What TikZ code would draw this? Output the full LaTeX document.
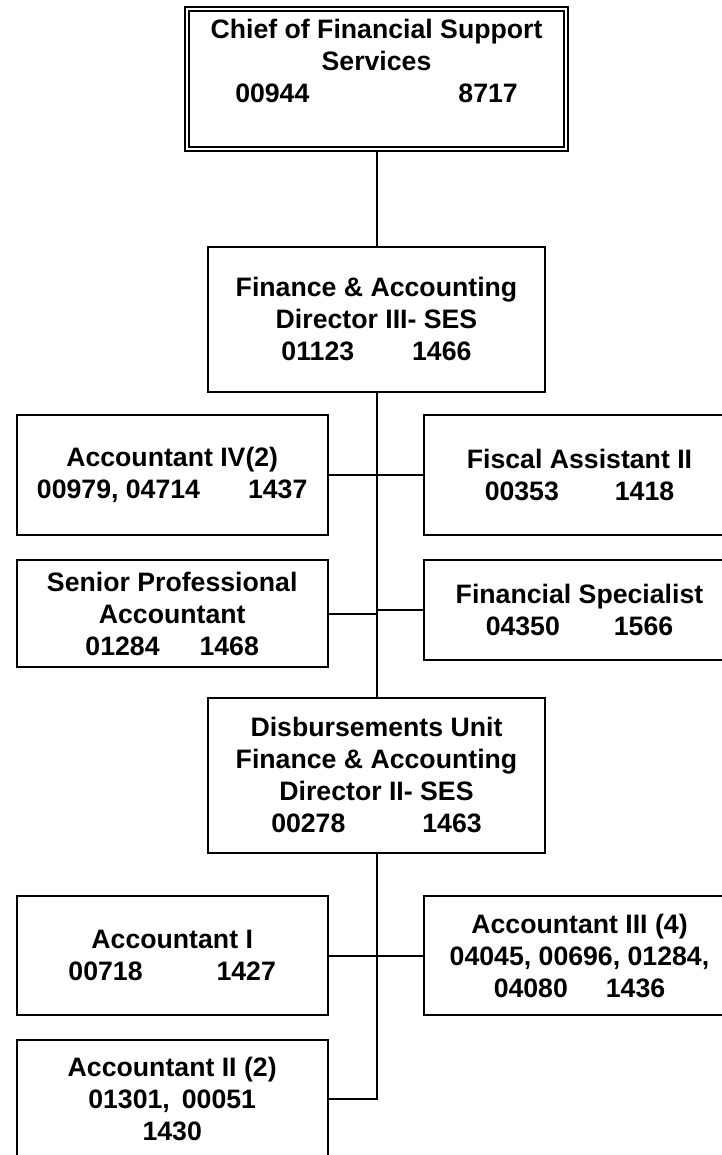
\documentclass[tikz,border=0pt]{standalone}
\usepackage{fontspec}
\setmainfont{Liberation Sans}
\begin{document}
\begin{tikzpicture}[x=1pt,y=-1pt,
		post/.style={draw=black,line width=2pt,align=center,inner sep=0pt,minimum width=337pt,
			font=\bfseries\fontsize{26.67}{32}\selectfont},
		side/.style={post,minimum width=311pt},
		link/.style={draw=black,line width=2pt}]
	\useasboundingbox (0,0) rectangle (721,1155);
	\node[post,double,double distance=2.4pt,outer sep=3.2pt,minimum width=379pt,minimum height=139.5pt] (chief) at (376.5,79) {Chief of Financial Support\\Services\\00944\hspace{149pt}8717\\[4pt]\mbox{}};
	\node[post,minimum height=144.5pt] (dir3) at (376.5,319.25) {Finance \& Accounting\\Director III- SES\\01123\hspace{58pt}1466};
	\node[side,minimum height=120pt] (acct4) at (172.2,475) {Accountant IV(2)\\00979, 04714\hspace{48pt}1437};
	\node[side,minimum height=120pt] (fiscal) at (579.5,475) {Fiscal Assistant II\\00353\hspace{56pt}1418};
	\node[side,minimum height=107.5pt] (senior) at (172.2,613.5) {Senior Professional\\Accountant\\01284\hspace{40pt}1468};
	\node[side,minimum height=100pt] (finspec) at (579.5,610) {Financial Specialist\\04350\hspace{54pt}1566};
	\node[post,minimum height=155.3pt] (disb) at (376.5,775.3) {Disbursements Unit\\Finance \& Accounting\\Director II- SES\\00278\hspace{77pt}1463};
	\node[side,minimum height=119pt] (acct1) at (172.2,955.5) {Accountant I\\00718\hspace{74pt}1427};
	\node[side,minimum height=119pt] (acct3) at (579.5,955.5) {Accountant III (4)\\04045, 00696, 01284,\\04080\hspace{38pt}1436};
	\node[side,minimum height=117pt] (acct2) at (172.2,1098.5) {Accountant II (2)\\01301,\hspace{12pt}00051\\1430};
	\draw[link] (chief) -- (dir3);
	\draw[link] (dir3) -- (disb);
	\draw[link] (acct4) -- (fiscal);
	\draw[link] (senior) -- (senior -| disb);
	\draw[link] (finspec) -- (finspec -| disb);
	\draw[link] (acct1) -- (acct3);
	\draw[link] (disb) |- (acct2);
\end{tikzpicture}
\end{document}
